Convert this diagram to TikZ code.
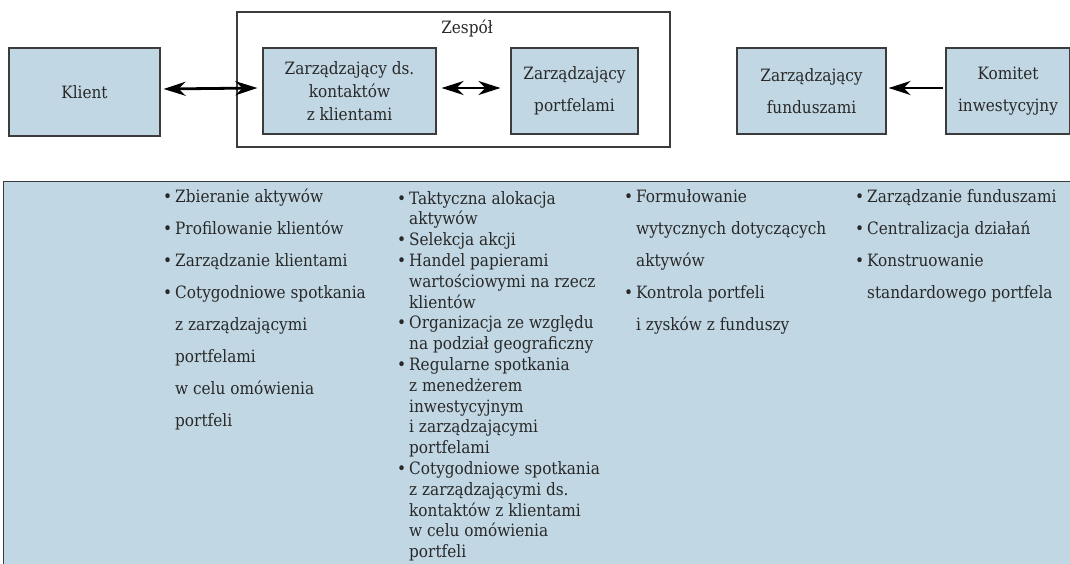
\documentclass[tikz,border=0pt]{standalone}
\usepackage{fontspec}
\setmainfont{DejaVu Serif Condensed}
\usetikzlibrary{arrows.meta}
\definecolor{boxblue}{RGB}{193,215,227}
\definecolor{edgegray}{RGB}{60,60,60}
\definecolor{inkgray}{RGB}{40,40,40}
\newcommand\bul{\makebox[12pt][l]{\textbullet}}
\newcommand\ind{\hspace*{12pt}}

\begin{document}
\begin{tikzpicture}[x=1pt,y=-1pt,
  box/.style={draw=edgegray,line width=1.2pt,fill=boxblue,align=center,inner sep=0pt,text=inkgray},
  tip/.style={Stealth[length=22pt,width=14pt,inset=7pt]},
  arr/.style={line width=2.8pt,-{Stealth[length=22pt,width=14pt,inset=7pt]}},
  dbl/.style={line width=2.8pt,{Stealth[length=22pt,width=14pt,inset=7pt]}-{Stealth[length=22pt,width=14pt,inset=7pt]}},
  col/.style={anchor=north west,align=left,inner sep=0pt,text=inkgray},
  font=\fontsize{17}{21}\selectfont]
  \useasboundingbox (0,0) rectangle (1070,564);

  % top row
  \node[box,minimum width=151pt,minimum height=88pt] (klient) at (84.5,92) {Klient};
  \node[draw=edgegray,line width=1.2pt,minimum width=433pt,minimum height=135pt] (zespol) at (453.5,79.5) {};
  \node[text=inkgray] (zespolLabel) at (467,28) {Zespół};
  \node[box,minimum width=173pt,minimum height=86pt] (kontakty) at (349.5,91) {Zarządzający ds.\\[2pt]kontaktów\\[2pt]z klientami};
  \node[box,minimum width=127pt,minimum height=86pt] (portfele) at (574.5,91) {Zarządzający\\[11pt]portfelami};
  \node[box,minimum width=149pt,minimum height=86pt] (fundusze) at (811.5,91) {Zarządzający\\[11pt]funduszami};
  \node[box,minimum width=124pt,minimum height=86pt] (komitet) at (1008,91) {Komitet\\[11pt]inwestycyjny};

  \draw[dbl] ([xshift=3pt,yshift=3pt]klient.east) -- ([xshift=-5pt,yshift=3pt]kontakty.west);
  \draw[dbl] ([xshift=5pt,yshift=3pt]kontakty.east) -- ([xshift=-10pt,yshift=3pt]portfele.west);
  \draw[arr] ([xshift=-2pt,yshift=3pt]komitet.west) -- ([xshift=2pt,yshift=3pt]fundusze.east);

  % panel with tasks
  \node[box,anchor=north west,minimum width=1080pt,minimum height=400pt] (panel) at (3,181) {};

  \node[col,font=\fontsize{17}{32}\selectfont] (zadaniaKlient) at (163,189) {%
    \bul Zbieranie aktywów\\
    \bul Profilowanie klientów\\
    \bul Zarządzanie klientami\\
    \bul Cotygodniowe spotkania\\
    \ind z zarządzającymi\\
    \ind portfelami\\
    \ind w celu omówienia\\
    \ind portfeli};
  \node[col,font=\fontsize{17}{20.8}\selectfont] (zadaniaPortfele) at (397,191) {%
    \bul Taktyczna alokacja\\
    \ind aktywów\\
    \bul Selekcja akcji\\
    \bul Handel papierami\\
    \ind wartościowymi na rzecz\\
    \ind klientów\\
    \bul Organizacja ze względu\\
    \ind na podział geograficzny\\
    \bul Regularne spotkania\\
    \ind z menedżerem\\
    \ind inwestycyjnym\\
    \ind i zarządzającymi\\
    \ind portfelami\\
    \bul Cotygodniowe spotkania\\
    \ind z zarządzającymi ds.\\
    \ind kontaktów z klientami\\
    \ind w celu omówienia\\
    \ind portfeli};
  \node[col,font=\fontsize{17}{32}\selectfont] (zadaniaKomitet) at (624,189) {%
    \bul Formułowanie\\
    \ind wytycznych dotyczących\\
    \ind aktywów\\
    \bul Kontrola portfeli\\
    \ind i zysków z funduszy};
  \node[col,font=\fontsize{17}{32}\selectfont] (zadaniaFundusze) at (855,189) {%
    \bul Zarządzanie funduszami\\
    \bul Centralizacja działań\\
    \bul Konstruowanie\\
    \ind standardowego portfela};
\end{tikzpicture}
\end{document}
